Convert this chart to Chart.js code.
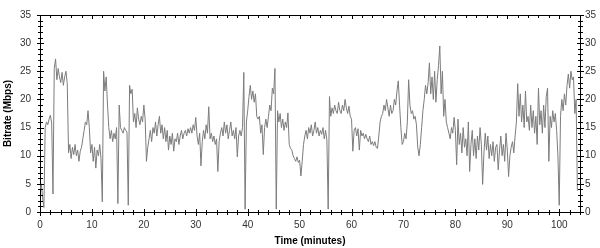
<!DOCTYPE html>
<html>
<head>
<meta charset="utf-8">
<script src="https://cdn.jsdelivr.net/npm/chart.js@4/dist/chart.umd.min.js"></script>
<style>
html,body{margin:0;padding:0;background:#fff;}
canvas{display:block;}
</style>
</head>
<body>
<canvas id="c" width="600" height="248"></canvas>
<script>
// Sample spacing of the series (minutes between readings)
const stepMinutes = 0.25;

// Bitrate (Mbps), 4 readings per minute
const bitrate = [
  4, 5, 2.5, 0.8,          // 0
  15, 16, 15.5, 16.5,      // 1
  17.2, 15.8, 3.2, 25.5,   // 2
  27.2, 23.5, 25.5, 24,    // 3
  23, 24.8, 22.5, 24,      // 4
  25, 22.8, 10.5, 12,      // 5
  9.5, 11.5, 10.2, 12,     // 6
  10, 11, 9, 10.8,         // 7
  11.5, 13, 14.5, 16,      // 8
  15.5, 18, 15, 10.5,      // 9
  12, 9, 11.5, 7.8,        // 10
  11, 10, 12, 9.5,         // 11
  1.8, 25, 21.5, 24,       // 12
  19, 15, 13, 14.5,        // 13
  12.5, 14, 13, 15,        // 14
  1.5, 19, 15, 14.5,       // 15
  14, 15, 14.5, 14.2,      // 16
  1.2, 22.5, 21, 21.8,     // 17
  16, 17.5, 15, 18.5,      // 18
  16.5, 15.5, 17, 16,      // 19
  19, 16.5, 9, 11.5,       // 20
  13, 14.5, 12.5, 15,      // 21
  14, 16, 13.5, 15.5,      // 22
  17, 14, 15.5, 13,        // 23
  15, 12.5, 14.5, 11,      // 24
  13.5, 12, 14, 10.8,      // 25
  13, 12.5, 14, 12,        // 26
  13.5, 14.5, 13, 14,      // 27
  14.5, 13.5, 14.8, 14,    // 28
  15, 14, 15.5, 14.5,      // 29
  16.8, 13.5, 12, 14,      // 30
  8.2, 12.5, 14.5, 13,     // 31
  15.5, 14, 18.7, 13,      // 32
  14, 12.5, 13.5, 12,      // 33
  13, 7.2, 12.5, 14,       // 34
  15, 13.5, 16, 14,        // 35
  15.5, 13, 14.5, 16,      // 36
  13.5, 14.5, 13, 15,      // 37
  9.8, 13.5, 14.5, 13.5,   // 38
  15, 24.8, 0.5, 16,       // 39
  18, 20.5, 22.5, 20,      // 40
  21.5, 19.5, 21, 17,      // 41
  16.5, 17, 14, 15.5,      // 42
  10.2, 15, 16.5, 15,      // 43
  17, 19, 18, 22,          // 44
  21, 25.5, 0.5, 18,       // 45
  16, 17.5, 15, 16.5,      // 46
  14.5, 16, 15, 17.6,      // 47
  12, 11.3, 11, 10,        // 48
  9.5, 9, 9.8, 8.8,        // 49
  9.2, 6.4, 9, 12,         // 50
  13.5, 14.5, 13, 15,      // 51
  14, 15.5, 13.5, 14.5,    // 52
  16, 14, 15, 13.5,        // 53
  14.5, 13.8, 15, 13,      // 54
  14.5, 12.8, 0.5, 20.5,   // 55
  17, 18.5, 17.5, 19,      // 56
  18, 17.5, 19.5, 18,      // 57
  17.5, 19, 18, 20,        // 58
  18.5, 17.5, 18.8, 17,    // 59
  16.5, 10.8, 14.5, 15,    // 60
  13.5, 14.8, 11, 14.5,    // 61
  13.5, 14, 13, 13.8,      // 62
  13, 12.5, 13.5, 12,      // 63
  12.5, 11.8, 12.5, 11.5,  // 64
  11.3, 13.5, 16, 17,      // 65
  17.5, 19, 18, 20,        // 66
  18.5, 17, 19, 17.5,      // 67
  18, 20, 19, 21.5,        // 68
  23.3, 19, 15, 12,        // 69
  12.5, 14, 13, 16,        // 70
  23.5, 19, 17.5, 18,      // 71
  16.5, 17, 15.5, 11.5,    // 72
  10, 12, 15, 18,          // 73
  20, 22.5, 21, 23,        // 74
  26.5, 21, 24, 20,        // 75
  25, 19.5, 23.5, 26,      // 76
  29.5, 21, 25, 17,        // 77
  20, 16, 15, 14,          // 78
  13, 15, 14, 16.8,        // 79
  14.5, 8.4, 16.5, 12,     // 80
  14, 10.5, 15, 11.5,      // 81
  13, 10, 16, 7.2,         // 82
  12, 14.5, 10, 13,        // 83
  9.5, 13.5, 11, 15,       // 84
  12, 4.9, 10.5, 14,       // 85
  11, 13.5, 9.5, 12,       // 86
  10, 12.5, 9, 11.5,       // 87
  12, 7.5, 11, 13.5,       // 88
  10, 12, 9, 14,           // 89
  11, 6.3, 10, 11.5,       // 90
  12.5, 10.5, 13.5, 16,    // 91
  22.8, 17, 21, 16,        // 92
  19, 15, 21.5, 16,        // 93
  17, 14.5, 19, 15,        // 94
  18, 14, 17, 12,          // 95
  22, 15.5, 18, 14,        // 96
  19, 15, 20.5, 22,        // 97
  9, 17, 15, 18,           // 98
  16, 17.5, 14.5, 10,      // 99
  1.2, 17, 20, 18,         // 100
  21, 19, 22.5, 24.5,      // 101
  22, 25, 23.5, 24,        // 102
  17.5, 20, 3.8            // 103
];

// Axis tick labels
const xTickLabels = [0, 10, 20, 30, 40, 50, 60, 70, 80, 90, 100];
const yTickLabels = [0, 5, 10, 15, 20, 25, 30, 35];

const xMax = 104;
const yMax = 35;

const points = bitrate.map((v, i) => ({ x: i * stepMinutes, y: v }));

const tickFont = { family: "'Liberation Sans', Arial, sans-serif", size: 10 };
const titleFont = { family: "'Liberation Sans', Arial, sans-serif", size: 10, weight: 'bold' };

// Draws the minor/major tick marks and top frame line
const frameTicks = {
  id: 'frameTicks',
  afterDraw(chart) {
    const { ctx, chartArea: a, scales } = chart;
    const xs = scales.x, ys = scales.y;
    ctx.save();
    ctx.strokeStyle = '#000';
    ctx.lineWidth = 1;
    ctx.beginPath();
    ctx.moveTo(a.left, Math.round(a.top) + 0.5);
    ctx.lineTo(a.right, Math.round(a.top) + 0.5);
    for (let v = 0; v <= yMax; v += 1) {
      const py = Math.round(ys.getPixelForValue(v)) + 0.5;
      const len = v % 5 === 0 ? 3 : 2;
      const L = Math.round(a.left), R = Math.round(a.right);
      ctx.moveTo(L - len, py); ctx.lineTo(L + len + 1, py);
      ctx.moveTo(R - len, py); ctx.lineTo(R + len + 1, py);
    }
    for (let t = 0; t <= xMax; t += 2) {
      const px = Math.round(xs.getPixelForValue(t)) + 0.5;
      const len = t % 10 === 0 ? 3 : 2;
      const B = Math.round(a.bottom), T = Math.round(a.top);
      ctx.moveTo(px, B - len); ctx.lineTo(px, B + len + 1);
      ctx.moveTo(px, T); ctx.lineTo(px, T + len + 1);
    }
    ctx.stroke();
    ctx.restore();
  }
};

new Chart(document.getElementById('c'), {
  type: 'line',
  data: {
    datasets: [{
      data: points,
      borderColor: '#7c7c7c',
      borderWidth: 1,
      pointRadius: 0,
      tension: 0,
      fill: false
    }]
  },
  options: {
    responsive: false,
    animation: false,
    layout: { padding: { top: 9, left: 0, right: 0, bottom: 0 } },
    plugins: { legend: { display: false }, tooltip: { enabled: false } },
    scales: {
      x: {
        type: 'linear',
        position: 'bottom',
        min: 0, max: xMax,
        afterBuildTicks: s => { s.ticks = xTickLabels.map(v => ({ value: v })); },
        ticks: { font: tickFont, color: '#333', padding: 7, maxRotation: 0, autoSkip: false },
        grid: { display: false, drawTicks: false },
        border: { display: true, color: '#000', width: 1 },
        title: { display: true, text: 'Time (minutes)', font: titleFont, color: '#000', padding: { top: 0, bottom: 1 } },
        afterFit: s => { s.height = 36; }
      },
      y: {
        type: 'linear',
        position: 'left',
        min: 0, max: yMax,
        afterBuildTicks: s => { s.ticks = yTickLabels.map(v => ({ value: v })); },
        ticks: { font: tickFont, color: '#333', padding: 9 },
        grid: { display: false, drawTicks: false },
        border: { display: true, color: '#000', width: 1 },
        title: { display: true, text: 'Bitrate (Mbps)', font: titleFont, color: '#000', padding: { top: 2, bottom: 0 } },
        afterFit: s => { s.width = 40; }
      },
      y2: {
        type: 'linear',
        position: 'right',
        min: 0, max: yMax,
        afterBuildTicks: s => { s.ticks = yTickLabels.map(v => ({ value: v })); },
        ticks: { font: tickFont, color: '#333', padding: 5 },
        grid: { display: false, drawTicks: false },
        border: { display: true, color: '#000', width: 1 },
        afterFit: s => { s.width = 20; }
      }
    }
  },
  plugins: [frameTicks]
});
</script>
</body>
</html>
